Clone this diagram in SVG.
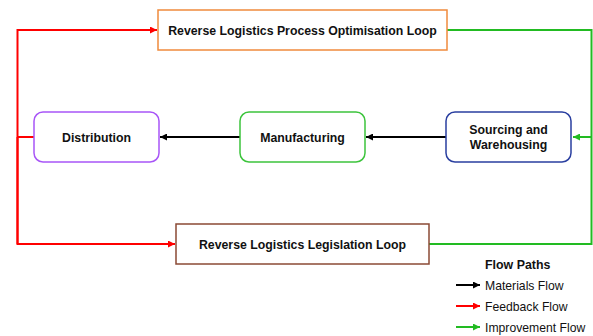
<svg xmlns="http://www.w3.org/2000/svg" width="593" height="336" viewBox="0 0 593 336">
<defs>
<style>
.t{font-family:"Liberation Sans",Arial,sans-serif;font-weight:bold;font-size:12.3px;fill:#111;text-anchor:middle}
.l{font-family:"Liberation Sans",Arial,sans-serif;font-size:12.2px;fill:#111}
.lh{font-family:"Liberation Sans",Arial,sans-serif;font-size:12.4px;font-weight:bold;fill:#111}
.c{fill:none;stroke-width:2}
</style>
<marker id="ab" viewBox="0 0 10 10" refX="10" refY="5" markerWidth="3.8" markerHeight="3.5" orient="auto" markerUnits="strokeWidth"><path d="M0,0L10,5L0,10z" fill="#000"/></marker>
<marker id="ar" viewBox="0 0 10 10" refX="10" refY="5" markerWidth="3.8" markerHeight="3.5" orient="auto" markerUnits="strokeWidth"><path d="M0,0L10,5L0,10z" fill="#ff0000"/></marker>
<marker id="ag" viewBox="0 0 10 10" refX="10" refY="5" markerWidth="3.8" markerHeight="3.5" orient="auto" markerUnits="strokeWidth"><path d="M0,0L10,5L0,10z" fill="#22bb22"/></marker>
</defs>
<rect width="593" height="336" fill="#fff"/>
<g id="connectors">
<path class="c" stroke="#000" d="M446,137H366" marker-end="url(#ab)"/>
<path class="c" stroke="#000" d="M240,137H160" marker-end="url(#ab)"/>
<path class="c" stroke="#ff0000" d="M34,137H17.5"/>
<path class="c" stroke="#ff0000" d="M17.5,244V30H157" marker-end="url(#ar)"/>
<path class="c" stroke="#ff0000" d="M17.5,137V244H175" marker-end="url(#ar)"/>
<path class="c" stroke="#22bb22" d="M447,30H591.5V244H429"/>
<path class="c" stroke="#22bb22" d="M591.5,137H573" marker-end="url(#ag)"/>
</g>
<g id="process-loop">
<rect x="158" y="10" width="289" height="40" fill="#fff" stroke="#f08a3c" stroke-width="1.5"/>
<text class="t" x="302.5" y="34.5">Reverse Logistics Process Optimisation Loop</text>
</g>
<g id="distribution">
<rect x="34" y="112" width="125" height="50" rx="9" fill="#fff" stroke="#a855f7" stroke-width="1.5"/>
<text class="t" x="96.5" y="141.5">Distribution</text>
</g>
<g id="manufacturing">
<rect x="240" y="112" width="125" height="50" rx="9" fill="#fff" stroke="#3cc43c" stroke-width="1.5"/>
<text class="t" x="302.5" y="141.5">Manufacturing</text>
</g>
<g id="sourcing">
<rect x="446" y="112" width="125" height="50" rx="9" fill="#fff" stroke="#2a3fa0" stroke-width="1.5"/>
<text class="t" x="508.5" y="134">Sourcing and</text>
<text class="t" x="508.5" y="149">Warehousing</text>
</g>
<g id="legislation-loop">
<rect x="176" y="224" width="253" height="40" fill="#fff" stroke="#8b4a35" stroke-width="1.5"/>
<text class="t" x="302.5" y="248.5">Reverse Logistics Legislation Loop</text>
</g>
<g id="legend">
<text class="lh" x="485" y="268.5">Flow Paths</text>
<path class="c" stroke="#000" d="M456,285H480" marker-end="url(#ab)"/>
<text class="l" x="485" y="289.5">Materials Flow</text>
<path class="c" stroke="#ff0000" d="M456,306H480" marker-end="url(#ar)"/>
<text class="l" x="485" y="310.5">Feedback Flow</text>
<path class="c" stroke="#22bb22" d="M456,327H480" marker-end="url(#ag)"/>
<text class="l" x="485" y="331.5">Improvement Flow</text>
</g>
</svg>
